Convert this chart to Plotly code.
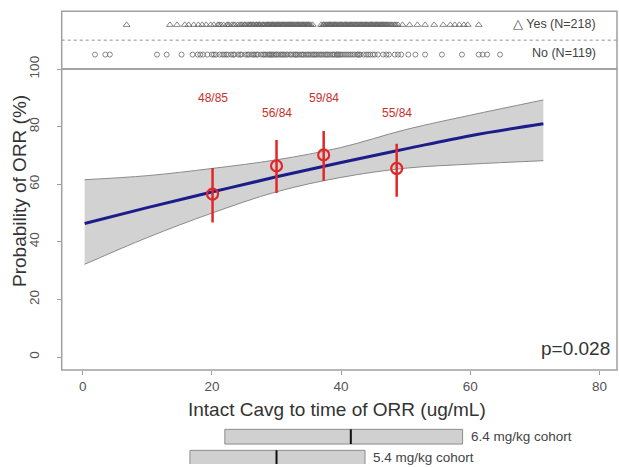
import plotly.graph_objects as go

# ---------------- data ----------------
curve_x = [0.3, 10, 20, 30, 40, 50, 60, 71.3]
curve_fit = [46.4, 51.9, 57.3, 62.6, 67.6, 72.3, 76.9, 81.0]
curve_upper = [61.6, 63.0, 65.5, 68.5, 72.8, 79.0, 84.0, 89.3]
curve_lower = [32.2, 41.5, 50.0, 57.4, 62.4, 65.6, 67.0, 68.2]

bin_x = [20.1, 30.0, 37.3, 48.6]
bin_pct = [56.6, 66.4, 70.2, 65.5]
bin_hi = [65.7, 75.4, 78.5, 74.1]
bin_lo = [46.7, 57.0, 61.2, 55.7]
bin_resp = [48, 56, 59, 55]
bin_total = [85, 84, 84, 84]

yes_x = [
    6.8, 13.5, 14.6, 15.8, 16.4, 17.2, 17.9, 18.5, 19.1, 19.8,
    20.3, 20.9, 21.4, 21.8, 22.3, 22.7, 23.1, 23.6, 24.0, 24.3,
    24.7, 25.0, 25.3, 25.6, 25.9, 26.2, 26.5, 26.8, 27.0, 27.3,
    27.5, 27.8, 28.0, 28.2, 28.5, 28.7, 28.9, 29.1, 29.3, 29.5,
    29.7, 29.9, 30.1, 30.3, 30.5, 30.7, 30.9, 31.1, 31.2, 31.4,
    31.6, 31.8, 32.0, 32.1, 32.3, 32.5, 32.7, 32.9, 33.0, 33.2,
    33.4, 33.6, 33.8, 34.0, 34.2, 34.4, 34.6, 34.8, 35.0, 35.3,
    35.6, 36.9, 37.2, 37.4, 37.6, 37.8, 38.0, 38.2, 38.4, 38.6,
    38.8, 39.0, 39.2, 39.4, 39.6, 39.8, 40.0, 40.2, 40.4, 40.6,
    40.8, 41.0, 41.2, 41.4, 41.6, 41.8, 42.0, 42.2, 42.4, 42.6,
    42.8, 43.0, 43.2, 43.4, 43.6, 43.8, 44.0, 44.2, 44.4, 44.6,
    44.8, 45.0, 45.2, 45.4, 45.6, 45.8, 46.0, 46.2, 46.4, 46.6,
    46.8, 47.0, 47.3, 47.6, 47.9, 48.2, 48.5, 48.8, 49.5, 50.6,
    51.8, 53.0, 54.4, 55.8, 56.9, 57.6, 58.3, 59.0, 59.6, 61.3,
    21.1, 22.5, 23.4, 24.5, 25.1, 25.8, 26.4, 26.9, 27.4, 27.9,
    28.4, 28.8, 29.2, 29.6, 30.0, 30.4, 30.8, 31.3, 31.7, 32.2,
    32.6, 33.1, 33.5, 33.9, 34.3, 34.7, 35.1, 37.3, 37.7, 38.1,
    38.5, 38.9, 39.3, 39.7, 40.1, 40.5, 40.9, 41.3, 41.7, 42.1,
    42.5, 42.9, 43.3, 43.7, 44.1, 44.5, 44.9, 45.3, 45.7, 46.1,
    46.5, 46.9, 47.4, 47.8, 48.3, 26.0, 27.2, 28.6, 29.4, 30.2,
    31.0, 31.9, 32.4, 33.3, 34.1, 34.9, 38.3, 39.1, 39.9, 40.7,
    41.5, 42.3, 43.1, 43.9, 44.7, 45.5, 46.3, 47.1,
]
no_x = [
    1.9, 3.5, 4.2, 11.5, 13.0, 15.3, 17.0, 17.8, 18.6, 19.3,
    20.0, 20.6, 21.2, 21.9, 22.5, 23.0, 23.5, 24.1, 24.6, 25.2,
    25.7, 26.1, 26.6, 27.1, 27.6, 28.1, 28.6, 29.0, 29.4, 29.9,
    30.3, 30.8, 31.2, 31.7, 32.1, 32.6, 33.0, 33.5, 34.0, 34.5,
    35.0, 35.6, 36.2, 36.8, 37.3, 37.8, 38.3, 38.8, 39.3, 39.8,
    40.3, 40.9, 41.5, 42.1, 42.8, 43.5, 44.2, 44.9, 45.7, 46.5,
    47.4, 48.3, 49.3, 50.4, 51.5, 53.0, 55.6, 58.7, 61.3, 61.9,
    62.6, 64.6, 24.4, 26.9, 28.3, 30.6, 31.5, 32.9, 34.2, 35.3,
    36.5, 37.6, 38.6, 39.6, 40.6, 41.8, 43.0, 44.5, 22.2, 27.9,
    29.2, 33.8, 36.0, 39.0, 41.2, 42.5, 45.2, 18.2, 20.3, 21.6,
    23.3, 25.5, 26.4, 28.9, 30.0, 31.0, 32.3, 34.8, 37.0, 38.0,
    40.0, 42.6, 43.9, 47.0, 48.8, 29.6, 33.2, 35.8, 39.4,
]

cohort_names = ["6.4 mg/kg cohort", "5.4 mg/kg cohort"]
cohort_row = [1, 0]
cohort_lo = [22.0, 16.6]
cohort_med = [41.5, 30.0]
cohort_hi = [58.8, 43.7]

x_ticks = [0, 20, 40, 60, 80]
y_ticks = [0, 20, 40, 60, 80, 100]
p_text = "p=0.028"

# ---------------- styles ----------------
FONT = "Liberation Sans, Arial, sans-serif"
BOX = "#a0a0a0"
RED = "#e02828"
RED_TXT = "#c8302c"
H, W = 467, 619


def py(pix):
    return 1 - pix / H


def px(pix):
    return pix / W


fig = go.Figure()

# confidence band
fig.add_trace(go.Scatter(x=curve_x, y=curve_lower, mode="lines",
                         line=dict(color="#8a8a8a", width=1, shape="spline"), showlegend=False,
                         hoverinfo="skip"))
fig.add_trace(go.Scatter(x=curve_x, y=curve_upper, mode="lines", fill="tonexty",
                         fillcolor="#d2d2d2", line=dict(color="#8a8a8a", width=1, shape="spline"),
                         showlegend=False, hoverinfo="skip"))
# fitted curve
fig.add_trace(go.Scatter(x=curve_x, y=curve_fit, mode="lines",
                         line=dict(color="#1c1c8a", width=3, shape="spline"), showlegend=False))
# binned observed
fig.add_trace(go.Scatter(
    x=bin_x, y=bin_pct, mode="markers",
    marker=dict(symbol="circle-open", size=11, color=RED, line=dict(width=2.2, color=RED)),
    error_y=dict(type="data", symmetric=False,
                 array=[h - p for h, p in zip(bin_hi, bin_pct)],
                 arrayminus=[p - l for p, l in zip(bin_pct, bin_lo)],
                 color=RED, thickness=2.5, width=0),
    showlegend=False))
for i, (bx, r, t) in enumerate(zip(bin_x, bin_resp, bin_total)):
    fig.add_annotation(x=bx, y=90 if i % 2 == 0 else 84.8, xref="x", yref="y",
                       text=f"{r}/{t}", showarrow=False, xanchor="center", yanchor="middle",
                       font=dict(family=FONT, size=12, color=RED_TXT))

# rug panel
fig.add_trace(go.Scatter(x=yes_x, y=[2.03] * len(yes_x), xaxis="x", yaxis="y2",
                         mode="markers",
                         marker=dict(symbol="triangle-up-open", size=6, color="#6a6a6a",
                                     line=dict(width=0.8)),
                         showlegend=False))
fig.add_trace(go.Scatter(x=no_x, y=[1] * len(no_x), xaxis="x", yaxis="y2",
                         mode="markers",
                         marker=dict(symbol="circle-open", size=5, color="#6a6a6a",
                                     line=dict(width=0.8)),
                         showlegend=False))

# cohort bars
fig.add_trace(go.Bar(y=cohort_row, x=[h - l for h, l in zip(cohort_hi, cohort_lo)],
                     base=cohort_lo, orientation="h", xaxis="x", yaxis="y3",
                     width=0.7, marker=dict(color="#d0d0d0", line=dict(color="#8c8c8c", width=1)),
                     showlegend=False))
for row, med in zip(cohort_row, cohort_med):
    fig.add_trace(go.Scatter(x=[med, med], y=[row - 0.35, row + 0.35], xaxis="x", yaxis="y3",
                             mode="lines", line=dict(color="#111", width=2), showlegend=False))
for row, hi, name in zip(cohort_row, cohort_hi, cohort_names):
    fig.add_annotation(x=hi, y=row, xref="x", yref="y3", text=name, showarrow=False,
                       xanchor="left", yanchor="middle", xshift=6,
                       font=dict(family=FONT, size=13.5, color="#444"))

# panel boxes
fig.add_shape(type="rect", xref="x domain", yref="y domain", x0=0, x1=1, y0=0, y1=1,
              line=dict(color=BOX, width=1.5))
fig.add_shape(type="rect", xref="x domain", yref="y2 domain", x0=0, x1=1, y0=0, y1=1,
              line=dict(color=BOX, width=1.5))
fig.add_shape(type="line", xref="x domain", yref="y2", x0=0, x1=1, y0=1.5, y1=1.5,
              line=dict(color="#909090", width=1, dash="dot"))

# texts
fig.add_annotation(x=px(598), y=py(24.5), xref="paper", yref="paper", text="\u25b3 Yes (N=218)",
                   showarrow=False, xanchor="right", yanchor="middle",
                   font=dict(family=FONT, size=12.5, color="#444"))
fig.add_annotation(x=px(598), y=py(53.5), xref="paper", yref="paper", text="No (N=119)",
                   showarrow=False, xanchor="right", yanchor="middle",
                   font=dict(family=FONT, size=12.5, color="#444"))
fig.add_annotation(x=px(611.7), y=py(348), xref="paper", yref="paper", text=p_text,
                   showarrow=False, xanchor="right", yanchor="middle",
                   font=dict(family=FONT, size=19, color="#333"))
fig.add_annotation(x=px(337), y=py(409), xref="paper", yref="paper",
                   text="Intact Cavg to time of ORR (ug/mL)", showarrow=False,
                   xanchor="center", yanchor="middle",
                   font=dict(family=FONT, size=19, color="#333"))
fig.add_annotation(x=px(19), y=py(191), xref="paper", yref="paper",
                   text="Probability of ORR (%)", showarrow=False, textangle=-90,
                   xanchor="center", yanchor="middle",
                   font=dict(family=FONT, size=19, color="#333"))

fig.update_layout(
    width=W, height=H, margin=dict(l=0, r=0, t=0, b=0),
    paper_bgcolor="white", plot_bgcolor="white",
    xaxis=dict(domain=[px(61.7), px(617)], range=[-3.25, 82.7], anchor="y",
               tickvals=x_ticks, ticks="outside", ticklen=4, tickcolor=BOX,
               showgrid=False, zeroline=False, showline=False,
               tickfont=dict(family=FONT, size=13.5, color="#555"), automargin=False),
    yaxis=dict(domain=[py(370), py(69)], range=[-4.5, 100.05],
               tickvals=y_ticks, ticks="outside", ticklen=4, tickcolor=BOX,
               tickangle=-90, ticklabelstandoff=12,
               showgrid=False, zeroline=False, showline=False,
               tickfont=dict(family=FONT, size=13.5, color="#555"), automargin=False),
    yaxis2=dict(domain=[py(69), py(11.3)], range=[0.5, 2.5], anchor="x",
                showticklabels=False, ticks="", showgrid=False, zeroline=False),
    yaxis3=dict(domain=[py(464), py(426.2)], range=[-0.3, 1.5], anchor="x",
                showticklabels=False, ticks="", showgrid=False, zeroline=False),
    showlegend=False,
)

fig.write_html("out.html")
